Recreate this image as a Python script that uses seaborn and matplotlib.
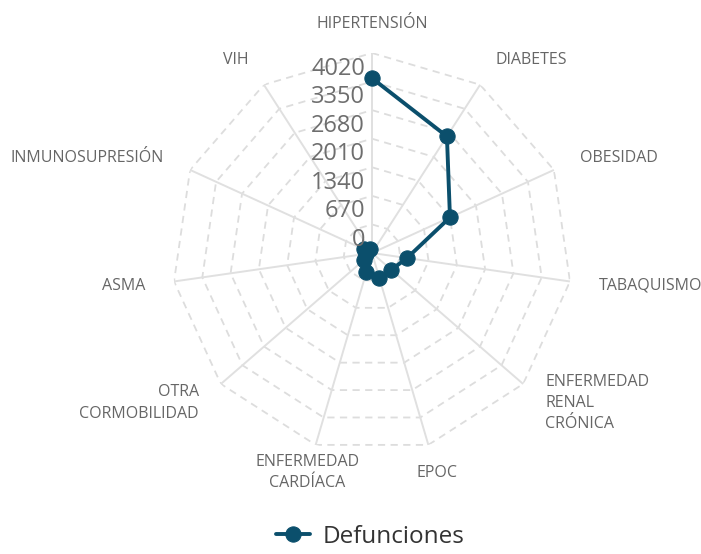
import numpy as np
import pandas as pd
import seaborn as sns
import matplotlib.pyplot as plt

# Defunciones por comorbilidad
categorias = ['HIPERTENSIÓN', 'DIABETES', 'OBESIDAD', 'TABAQUISMO',
              'ENFERMEDAD\nRENAL\nCRÓNICA', 'EPOC', 'ENFERMEDAD\nCARDÍACA',
              'OTRA\nCORMOBILIDAD', 'ASMA', 'INMUNOSUPRESIÓN', 'VIH']
defunciones = [4100, 3250, 2010, 830, 600, 610, 460, 250, 150, 200, 100]
ticks = [0, 670, 1340, 2010, 2680, 3350, 4020]
r_max = 4690

color_linea = '#0b4f6c'
color_texto = '#666666'

sns.set_theme(style='white')
plt.rcParams['font.family'] = ['Open Sans', 'DejaVu Sans']

n = len(categorias)
angulos = np.arange(n) * 2 * np.pi / n

df = pd.DataFrame({'angulo': angulos, 'defunciones': defunciones})
df_cerrado = pd.concat([df, df.iloc[[0]]], ignore_index=True)

fig = plt.figure(figsize=(7.01, 5.54), dpi=100)
ax = fig.add_axes([172 / 701, 101 / 554, 400 / 701, 400 / 554], projection='polar')
ax.set_theta_offset(np.pi / 2)
ax.set_theta_direction(-1)
ax.set_ylim(0, r_max)
ax.grid(False)
ax.spines['polar'].set_visible(False)
ax.set_xticks([])
ax.set_yticks([])
ax.set_facecolor('white')

# rejilla poligonal
anillo = np.append(angulos, angulos[0])
for k in range(1, 8):
    ax.plot(anillo, [k * 670] * len(anillo), color='#dddddd', lw=1.3,
            ls=(0, (4, 3)), zorder=1)
for a in angulos:
    ax.plot([a, a], [0, r_max], color='#e0e0e0', lw=1.4, zorder=1)

sns.lineplot(data=df_cerrado, x='angulo', y='defunciones', ax=ax, sort=False,
             color=color_linea, lw=2.8, marker='o', markersize=11,
             markeredgecolor=color_linea, label='Defunciones', zorder=3)
ax.set_xlabel('')
ax.set_ylabel('')
ax.get_legend().remove()

# etiquetas de categorias
r_texto = r_max * 229 / 200
for a, nombre in zip(angulos, categorias):
    s = np.sin(a)
    if abs(s) < 0.3:
        ha = 'center'
    elif s > 0:
        ha = 'left'
    else:
        ha = 'right'
    ax.text(a, r_texto, nombre, ha=ha, va='center', fontsize=11.5,
            color=color_texto, linespacing=1.45, clip_on=False)

# etiquetas del eje radial
for t in ticks:
    ax.annotate(str(t), xy=(0, t), xytext=(-7, 13), textcoords='offset pixels',
                ha='right', va='center', fontsize=17, color='#6e6e6e')

handles, labels = ax.get_legend_handles_labels()
fig.legend(handles, labels, loc='center', bbox_to_anchor=(0.528, 1 - 537 / 554),
           frameon=False, fontsize=17.5, handlelength=1.4, handletextpad=0.5,
           labelcolor='#333333')

fig.savefig('out.png', dpi=100, facecolor='white')
